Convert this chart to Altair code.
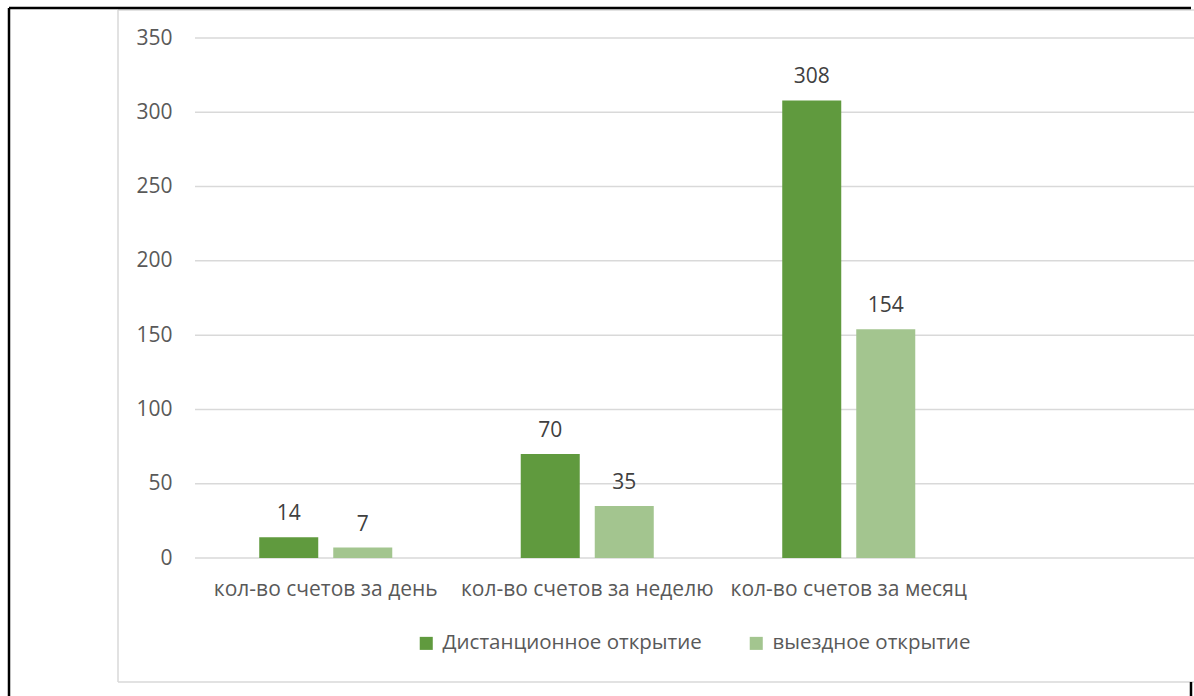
import altair as alt
import pandas as pd

# Account openings by period and channel
categories = ["кол-во счетов за день", "кол-во счетов за неделю", "кол-во счетов за месяц"]
series = ["Дистанционное открытие", "выездное открытие"]
remote_values = [14, 70, 308]
onsite_values = [7, 35, 154]
y_ticks = [0, 50, 100, 150, 200, 250, 300, 350]

colors = ["#609A3E", "#A3C58F"]

rows = []
for cat, r, o in zip(categories, remote_values, onsite_values):
    rows.append({"period": cat, "channel": series[0], "value": r})
    rows.append({"period": cat, "channel": series[1], "value": o})
df = pd.DataFrame(rows)
grid_df = pd.DataFrame({"tick": y_ticks})

FONT = "Open Sans"
FS = 21
W, H = 999, 520

y_scale = alt.Scale(domain=[0, 350], nice=False)
y_axis = alt.Axis(
    title=None, values=y_ticks, domain=False, ticks=False, grid=False,
    labelFont=FONT, labelFontSize=FS, labelColor="#595959", labelPadding=23,
)

x_enc = alt.X(
    "period:N",
    sort=categories,
    scale=alt.Scale(domain=categories, range=[0, 784.5], paddingInner=0, paddingOuter=0),
    axis=alt.Axis(
        title=None, domain=False, ticks=False, labelAngle=0,
        labelFont=FONT, labelFontSize=FS, labelColor="#595959", labelPadding=20,
        labelLimit=400,
    ),
)
xoff_enc = alt.XOffset(
    "channel:N", sort=series,
    scale=alt.Scale(domain=series, paddingInner=0.2027, paddingOuter=0.868),
)

# Horizontal gridlines spanning the full plot width (also carries the y axis)
grid = alt.Chart(grid_df).mark_rule(color="#D9D9D9", strokeWidth=1.5).encode(
    y=alt.Y("tick:Q", scale=y_scale, axis=y_axis),
    x=alt.value(0),
    x2=alt.value(W),
)

bars = alt.Chart(df).mark_bar().encode(
    x=x_enc,
    xOffset=xoff_enc,
    y=alt.Y("value:Q", scale=y_scale, axis=y_axis),
    color=alt.Color(
        "channel:N", sort=series,
        scale=alt.Scale(domain=series, range=colors),
        legend=alt.Legend(
            title=None, orient="none", direction="horizontal",
            legendX=221, legendY=595,
            symbolType="square", symbolSize=170, symbolStrokeWidth=0,
            labelFont=FONT, labelFontSize=20.5, labelColor="#595959",
            labelOffset=6, columnPadding=44, labelLimit=500,
        ),
    ),
)

labels = alt.Chart(df).mark_text(
    font=FONT, fontSize=FS, color="#404040", baseline="alphabetic", dy=-17,
).encode(
    x=alt.X("period:N", sort=categories),
    xOffset=alt.XOffset("channel:N", sort=series),
    y=alt.Y("value:Q"),
    text=alt.Text("value:Q"),
)

# Frame lines around the chart
frame_black = pd.DataFrame({
    "x": [-186, -186, 996], "x2": [996, -186, 996],
    "y": [-30, -30, 644], "y2": [-30, 658, 658],
})
frame_gray = pd.DataFrame({
    "x": [-77, -77, -77], "x2": [-77, 999, 999],
    "y": [-28, -28, 644], "y2": [644, -28, 644],
})

black_lines = alt.Chart(frame_black).mark_rule(color="#000000", strokeWidth=2.5).encode(
    x=alt.X("x:Q", scale=None), x2="x2:Q",
    y=alt.Y("y:Q", scale=None), y2="y2:Q",
)
gray_lines = alt.Chart(frame_gray).mark_rule(color="#D9D9D9", strokeWidth=1.5).encode(
    x=alt.X("x:Q", scale=None), x2="x2:Q",
    y=alt.Y("y:Q", scale=None), y2="y2:Q",
)

chart = alt.layer(grid, gray_lines, black_lines, bars, labels).properties(
    width=W, height=H,
    padding={"left": 195, "top": 38, "right": 0, "bottom": 138},
    autosize="none",
    background="white",
).configure_view(stroke=None)

chart.save("out.html", embed_options={"renderer": "svg", "actions": False})
